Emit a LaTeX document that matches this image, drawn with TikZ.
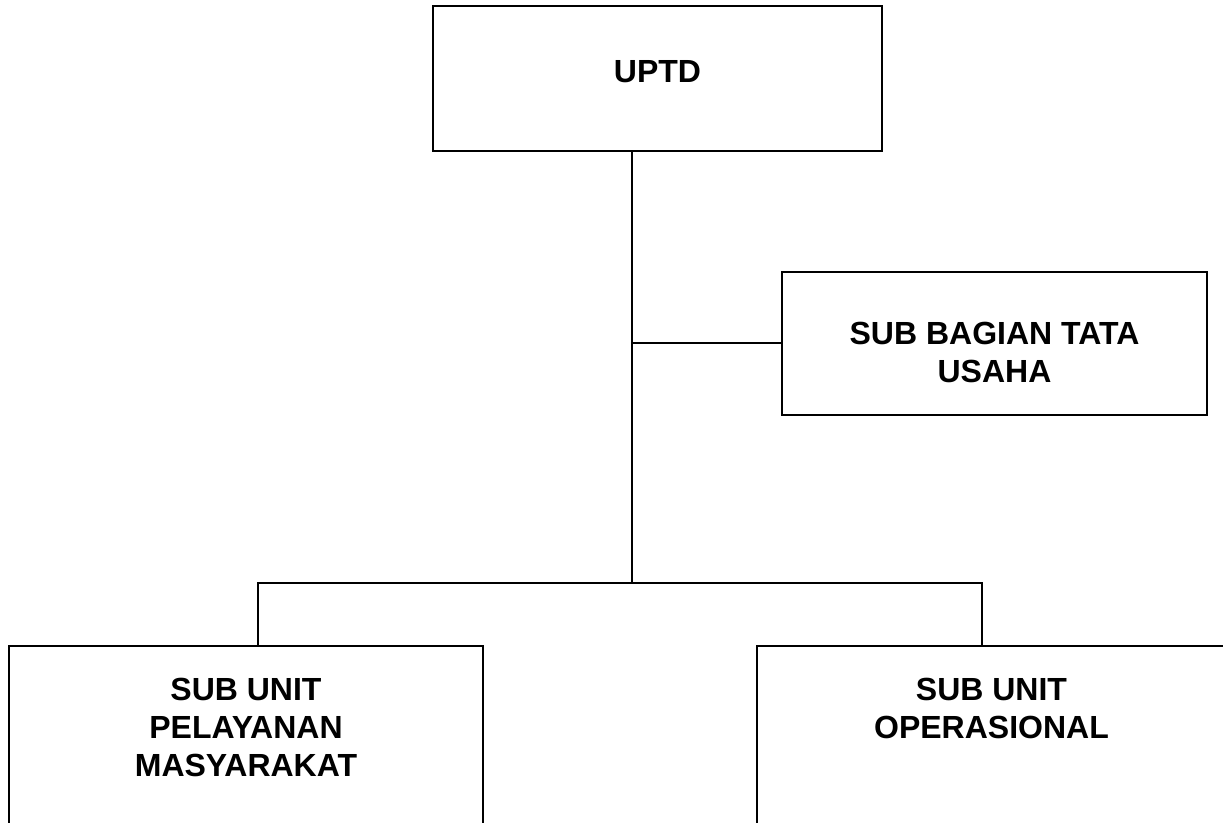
\documentclass[tikz,border=0pt]{standalone}
\usepackage{fontspec}
\setmainfont{Liberation Sans}
\usetikzlibrary{positioning}

\begin{document}
\begin{tikzpicture}[
    x = 0.5pt, y = -0.5pt,
    line width = 1pt,
    unit/.style = {rectangle, draw, line width=1.2pt, inner sep=0pt},
    title/.style = {align=center, inner sep=0pt, font=\fontsize{16}{19}\selectfont\bfseries}
]
    \useasboundingbox (0,0) rectangle (1223,823);
    \clip (0,0) rectangle (1223,823);

    \node[unit, minimum width=224.5pt, minimum height=72.5pt] (uptd) at (657.5,78.5) {};
    \node[unit, minimum width=212.5pt, minimum height=71.5pt] (tu) at (994.5,343.5) {};
    \node[unit, minimum width=237pt, minimum height=127pt] (supm) at (246,773) {};
    \node[unit, minimum width=234.5pt, minimum height=127pt] (suo) at (991.5,773) {};

    \node[title, below=27.5pt of uptd.north] (uptd-t) {UPTD};
    \node[title, below=25pt of tu.north] (tu-t) {SUB BAGIAN TATA\\USAHA};
    \node[title, below=16pt of supm.north] (supm-t) {SUB UNIT\\PELAYANAN\\MASYARAKAT};
    \node[title, below=16pt of suo.north] (suo-t) {SUB UNIT\\OPERASIONAL};

    \coordinate (stem) at (632,583);
    \coordinate (left) at (258,583);
    \coordinate (right) at (982,583);

    \draw (stem |- uptd.south) -- (stem);
    \draw (stem |- tu.west) -- (tu.west);
    \draw (left |- supm.north) -- (left) -- (right) -- (right |- suo.north);
\end{tikzpicture}
\end{document}
